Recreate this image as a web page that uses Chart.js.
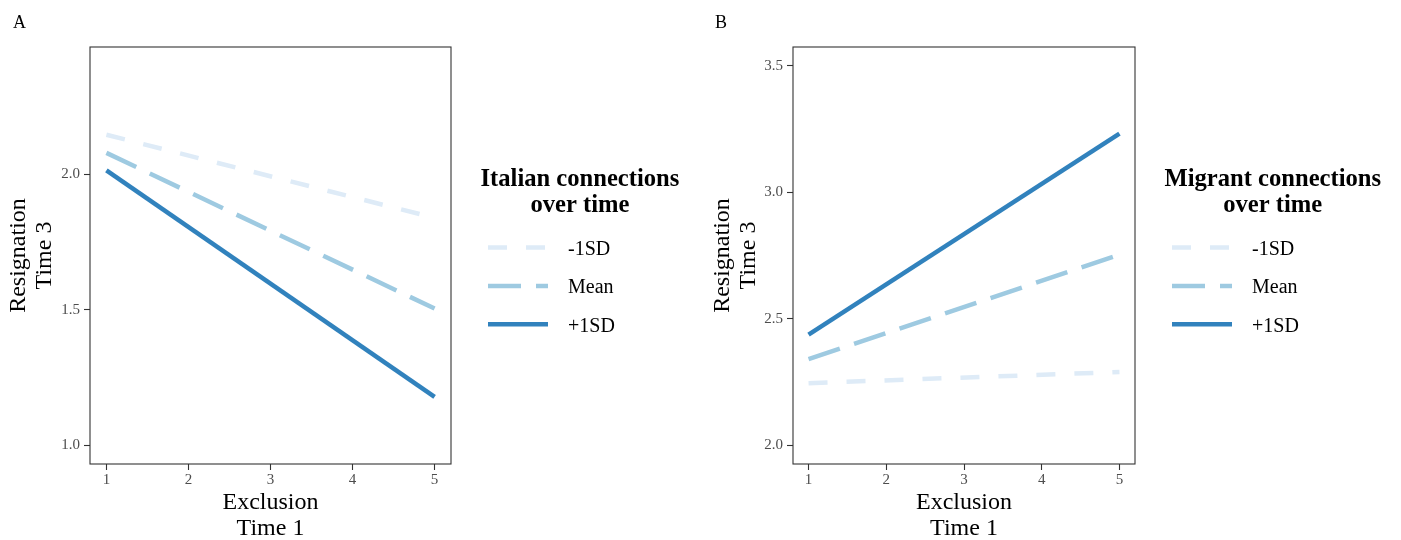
<!DOCTYPE html>
<html>
<head>
<meta charset="utf-8">
<script src="https://cdn.jsdelivr.net/npm/chart.js@4.4.1/dist/chart.umd.min.js"></script>
<style>
  html, body { margin: 0; padding: 0; background: #ffffff; overflow: hidden; }
  #wrap { position: relative; width: 1401px; height: 540px; }
  canvas { position: absolute; top: 0; }
</style>
</head>
<body>
<div id="wrap">
  <canvas id="panelA" width="700" height="540" style="left:0px"></canvas>
  <canvas id="panelB" width="701" height="540" style="left:700px"></canvas>
</div>
<script>
// Simple slopes: Resignation (Time 3) predicted by Exclusion (Time 1)
// at low (-1SD), average and high (+1SD) levels of connections over time.
const exclusionT1 = [1, 5];
const levelLabels = ['-1SD', 'Mean', '+1SD'];

// Panel A: Italian connections over time
const italianLow  = [2.146, 1.839];
const italianMean = [2.079, 1.504];
const italianHigh = [2.014, 1.178];

// Panel B: Migrant connections over time
const migrantLow  = [2.245, 2.289];
const migrantMean = [2.340, 2.753];
const migrantHigh = [2.437, 3.232];

const xTicks = [1, 2, 3, 4, 5];
const xLimits = [1, 5];
const yTicksItalian = [1.0, 1.5, 2.0];
const yLimitsItalian = [1.0, 2.4];
const yTicksMigrant = [2.0, 2.5, 3.0, 3.5];
const yLimitsMigrant = [2.0, 3.5];

const xTitle = ['Exclusion', 'Time 1'];
const yTitle = ['Resignation', 'Time 3'];
const legendTitleItalian = ['Italian connections', 'over time'];
const legendTitleMigrant = ['Migrant connections', 'over time'];

// Blues palette, light to dark; dash patterns: dashed, long dash, solid
const lineColors = ['#deebf7', '#9ecae1', '#3182bd'];
const lineDashes = [[19, 19], [33, 15], []];

const SERIF = "'Liberation Serif', 'Times New Roman', serif";
Chart.defaults.font.family = SERIF;

// 5% padding on each side of the axis limits
function expand(lim) {
  const d = (lim[1] - lim[0]) * 0.05;
  return [lim[0] - d, lim[1] + d];
}

// Panel frame, panel letter and the line-type legend
const panelDecor = {
  id: 'panelDecor',
  afterDraw(chart, args, opts) {
    const { ctx, chartArea: a } = chart;
    ctx.save();
    ctx.strokeStyle = '#333333';
    ctx.lineWidth = 1.1;
    ctx.setLineDash([]);
    ctx.strokeRect(a.left, a.top, a.right - a.left, a.bottom - a.top);

    ctx.fillStyle = '#000000';
    ctx.font = '18px ' + SERIF;
    ctx.textAlign = 'left';
    ctx.textBaseline = 'alphabetic';
    ctx.fillText(opts.letter, opts.letterX, 27.5);

    const boxLeft = a.right + 29.5;
    ctx.font = 'bold 24.6px ' + SERIF;
    ctx.textBaseline = 'middle';
    ctx.textAlign = 'center';
    const titleW = Math.max(...opts.title.map(t => ctx.measureText(t).width));
    opts.title.forEach((t, i) => ctx.fillText(t, boxLeft + titleW / 2, 179.6 + 25.6 * i));

    chart.data.datasets.forEach((ds, i) => {
      const y = 247.5 + 38.4 * i;
      ctx.strokeStyle = ds.borderColor;
      ctx.lineWidth = ds.borderWidth;
      ctx.lineCap = 'butt';
      ctx.setLineDash(ds.borderDash || []);
      ctx.beginPath();
      ctx.moveTo(boxLeft + 7.5, y);
      ctx.lineTo(boxLeft + 67.5, y);
      ctx.stroke();
      ctx.setLineDash([]);
      ctx.fillStyle = '#000000';
      ctx.font = '20px ' + SERIF;
      ctx.textAlign = 'left';
      ctx.fillText(ds.label, boxLeft + 87.5, y + 2.3);
    });
    ctx.restore();
  }
};

function buildPanel(canvasId, cfg) {
  const xr = expand(xLimits);
  const yr = expand(cfg.yLimits);
  return new Chart(document.getElementById(canvasId), {
    type: 'line',
    data: {
      datasets: cfg.series.map((vals, i) => ({
        label: levelLabels[i],
        data: exclusionT1.map((x, j) => ({ x: x, y: vals[j] })),
        borderColor: lineColors[i],
        borderWidth: 4.5,
        borderDash: lineDashes[i],
        borderCapStyle: 'butt',
        pointRadius: 0,
        pointHoverRadius: 0,
        tension: 0,
        fill: false,
        order: 3 - i
      }))
    },
    options: {
      responsive: false,
      animation: false,
      devicePixelRatio: 1,
      layout: { padding: { left: 0, top: 47, right: cfg.padRight, bottom: 0 } },
      plugins: {
        legend: { display: false },
        tooltip: { enabled: false },
        panelDecor: { letter: cfg.letter, letterX: cfg.letterX, title: cfg.legendTitle }
      },
      scales: {
        x: {
          type: 'linear',
          min: xr[0],
          max: xr[1],
          afterBuildTicks: s => { s.ticks = xTicks.map(v => ({ value: v })); },
          afterFit: s => { s.height = 76; },
          grid: { display: true, drawOnChartArea: false, drawTicks: true, tickLength: 6, tickColor: '#333333', tickWidth: 1.1 },
          border: { display: false },
          ticks: { color: '#4d4d4d', font: { size: 15 }, padding: 1, maxRotation: 0, autoSkip: false, callback: v => String(v) },
          title: { display: true, text: xTitle, color: '#000000', font: { size: 24, lineHeight: 26 / 24 }, padding: { top: 0, bottom: -2 } }
        },
        y: {
          type: 'linear',
          min: yr[0],
          max: yr[1],
          afterBuildTicks: s => { s.ticks = cfg.yTicks.map(v => ({ value: v })); },
          afterFit: s => { s.width = cfg.yAxisWidth; },
          grid: { display: true, drawOnChartArea: false, drawTicks: true, tickLength: 6, tickColor: '#333333', tickWidth: 1.1 },
          border: { display: false },
          ticks: { color: '#4d4d4d', font: { size: 15 }, padding: 4, autoSkip: false, callback: v => Number(v).toFixed(1) },
          title: { display: true, text: yTitle, color: '#000000', font: { size: 24, lineHeight: 26 / 24 }, padding: { top: cfg.yTitlePad, bottom: 0 } }
        }
      }
    },
    plugins: [panelDecor]
  });
}

buildPanel('panelA', {
  series: [italianLow, italianMean, italianHigh],
  yLimits: yLimitsItalian,
  yTicks: yTicksItalian,
  yAxisWidth: 90,
  padRight: 249,
  yTitlePad: 6,
  letter: 'A',
  letterX: 13,
  legendTitle: legendTitleItalian
});

buildPanel('panelB', {
  series: [migrantLow, migrantMean, migrantHigh],
  yLimits: yLimitsMigrant,
  yTicks: yTicksMigrant,
  yAxisWidth: 93,
  padRight: 266,
  yTitlePad: 9.5,
  letter: 'B',
  letterX: 15,
  legendTitle: legendTitleMigrant
});
</script>
</body>
</html>
